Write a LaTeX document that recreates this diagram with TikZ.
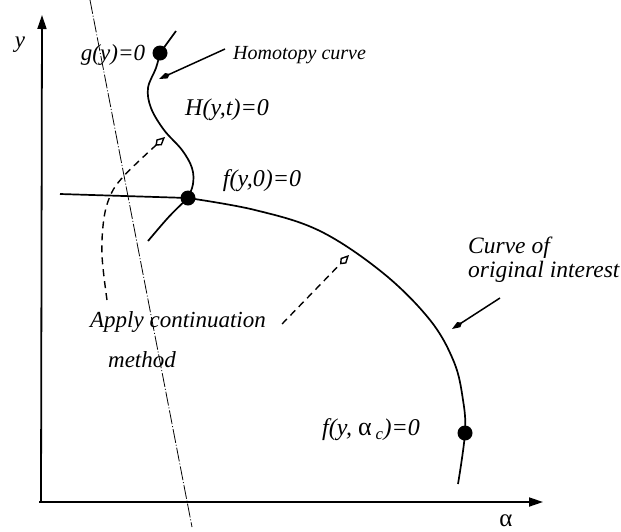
\documentclass[tikz,border=0pt]{standalone}
\usepackage{fontspec}
\setmainfont{Liberation Serif}
\usetikzlibrary{arrows.meta}
\begin{document}
\begin{tikzpicture}[x=1pt,y=-1pt,
  lbl/.style={font=\fontsize{23}{24}\selectfont\itshape, inner sep=0pt},
  curve/.style={line width=1.7pt},
  axis/.style={line width=1.8pt, -{Triangle[length=14pt,width=9pt]}},
  dotn/.style={circle, fill=black, inner sep=0pt, minimum size=15pt},
  hollow/.style={dash pattern=on 7pt off 5pt, line width=1.4pt, -{Kite[open,length=13pt,width=8pt,inset=5pt]}},
  pointer/.style={line width=1.5pt, -{Kite[length=12pt,width=6pt,inset=4pt]}},
  dashdot/.style={line width=0.8pt, dash pattern=on 14pt off 2pt on 1pt off 2pt},
  ]
\useasboundingbox (0,0) rectangle (621,531);
% axes
\coordinate (origin) at (41,502);
\coordinate (ytop) at (42,15);
\coordinate (xend) at (543,502);
\draw[axis] (origin) -- (ytop);
\draw[axis] ([xshift=-2pt]origin) -- (xend);
\node[lbl] (ylab) at (20,45) {y};
\node[lbl, font=\fontsize{25}{24}\selectfont\upshape] (alab) at (506,521) {α};
% dash-dot line
\coordinate (ltop) at (90,0);
\coordinate (lbot) at (192,527);
\draw[dashdot] (ltop) -- (lbot);
% dots
\node[dotn] (gdot) at (160,53) {};
\node[dotn] (fdot) at (188,198) {};
\node[dotn] (cdot) at (465,433) {};
% homotopy curve
\coordinate (htop) at (176,31);
\draw[curve] (htop) -- (gdot.center);
\draw[curve] plot[smooth, tension=0.6] coordinates {(160,53) (156,68) (148,88) (151,108) (164,130) (182,150) (192,168) (193,184) (188,198)};
\coordinate (hlow) at (148,241);
\draw[curve] (fdot.center) .. controls (170,215) .. (hlow);
% main curve
\coordinate (mstart) at (60,194);
\coordinate (mend) at (458,484);
\draw[curve] (mstart) -- (fdot.center);
\draw[curve] plot[smooth, tension=0.6] coordinates {(188,198) (255,210) (320,231) (383,273) (430,320) (454,362) (463,400) (465,433) (458,484)};
% labels
\node[lbl] (glab) at (113,55) {g(y)=0};
\node[lbl, font=\fontsize{20}{24}\selectfont\itshape, anchor=west] (hom) at (233,55) {Homotopy curve};
\node[lbl, font=\fontsize{24}{24}\selectfont\itshape] (hlab) at (227,110) {H(y,t)=0};
\node[lbl, font=\fontsize{24}{24}\selectfont\itshape] (flab) at (262,181) {f(y,0)=0};
\node[lbl, font=\fontsize{23.5}{24}\selectfont\itshape, anchor=west, align=left] (cur) at (468,260) {Curve of\\original interest};
\node[lbl] (apply) at (178,322) {Apply continuation};
\node[lbl] (meth) at (142,360) {method};
\node[lbl, font=\fontsize{24}{24}\selectfont\itshape] (clab) at (371,430) {f(y, {\fontsize{26}{24}\selectfont\upshape α}\,\textsubscript{c})=0};
% pointers
\coordinate (htip) at (159,79);
\draw[pointer] ([xshift=-8pt,yshift=6pt]hom.west) -- (htip);
\coordinate (ctip) at (452,329);
\draw[pointer] (500,298) -- (ctip);
% dashed continuation arrows
\coordinate (rtip) at (349,255);
\draw[hollow] ([xshift=16pt,yshift=-2pt]apply.east) -- (rtip);
\coordinate (ltip) at (165,137);
\draw[hollow] plot[smooth, tension=0.6] coordinates {(107,300) (102,255) (104,218) (111,194) (122,178) (140,160) (165,137)};
\end{tikzpicture}
\end{document}
